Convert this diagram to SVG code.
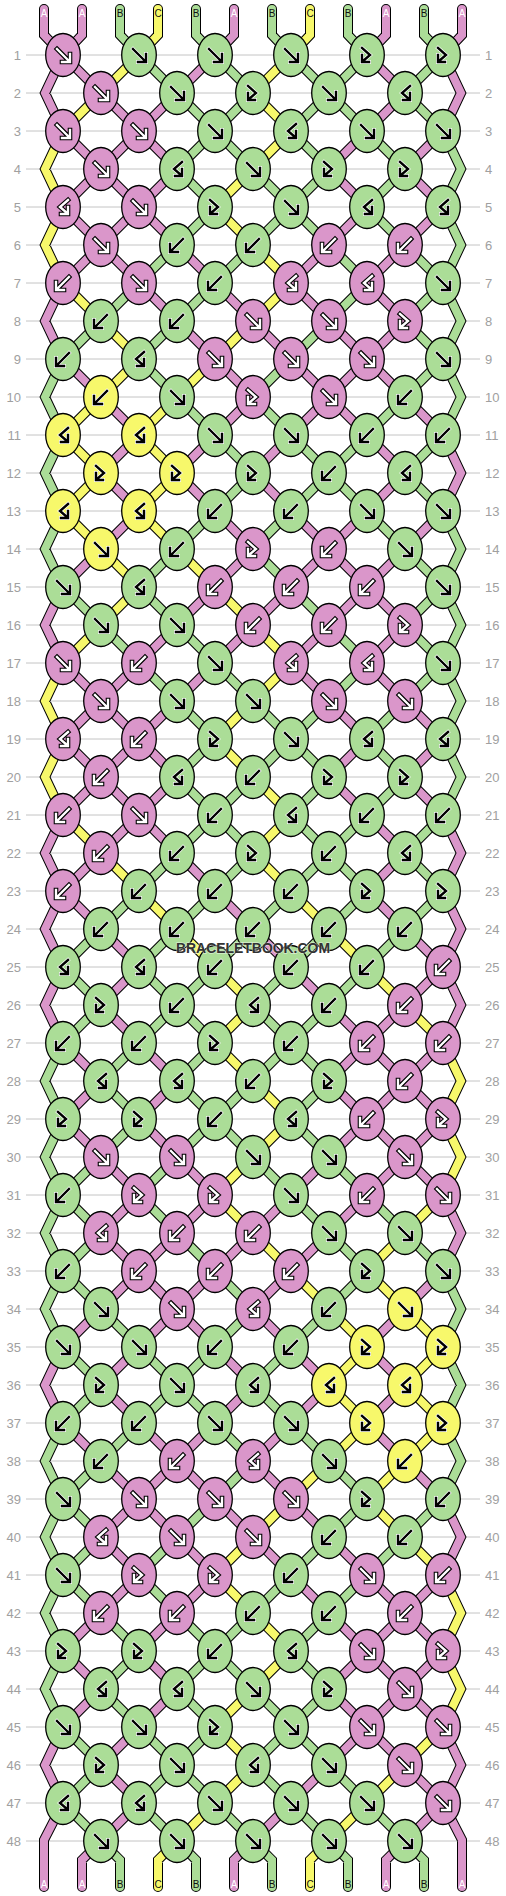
<svg xmlns="http://www.w3.org/2000/svg" width="506" height="1896" viewBox="0 0 506 1896">
<style>
.rl{fill:none;stroke:#c4c4c4;stroke-width:1}
.ln{font-family:"Liberation Sans",Arial,sans-serif;font-size:13px;fill:#a0a0a0}
.le{text-anchor:end}
.so{fill:none;stroke:#000;stroke-width:10;stroke-linecap:round;stroke-linejoin:miter}
.si{fill:none;stroke-width:8;stroke-linecap:round;stroke-linejoin:miter}
.cA{stroke:#DA96CA}.cB{stroke:#ABDD97}.cC{stroke:#F7F86B}
.kA{fill:#DA96CA;stroke:#000;stroke-width:1.3}
.kB{fill:#ABDD97;stroke:#000;stroke-width:1.3}
.kC{fill:#F7F86B;stroke:#000;stroke-width:1.3}
.aoW{fill:none;stroke:#000;stroke-width:4.6;stroke-linecap:square}
.aiW{fill:none;stroke:#fff;stroke-width:2.4;stroke-linecap:square}
.aoK{fill:none;stroke:#fff;stroke-width:3.8;stroke-linecap:square}
.aiK{fill:none;stroke:#000;stroke-width:2.4;stroke-linecap:square}
.tl{font-family:"Liberation Sans",Arial,sans-serif;font-size:10px;text-anchor:middle}
.tw{fill:#fff}.tk{fill:#111}
.wm{font-family:"Liberation Sans",Arial,sans-serif;font-size:14.5px;font-weight:bold;fill:#333;text-anchor:middle;stroke:#fff;stroke-width:1.5;stroke-opacity:0.5;paint-order:stroke}
</style>
<defs>
<path id="af" d="M-6-6L5 5M7-1V7H-1"/>
<path id="ab" d="M6-6L-5 5M-7-1V7H1"/>
<path id="afb" d="M-5-7L3 0L-4 6M-5 0V7H2"/>
<path id="abf" d="M5-7L-3 0L4 6M5 0V7H-2"/>
<g id="Pf"><ellipse class="kA" rx="17.3" ry="21.5"/><use href="#af" class="aoW"/><use href="#af" class="aiW"/></g>
<g id="Pb"><ellipse class="kA" rx="17.3" ry="21.5"/><use href="#ab" class="aoW"/><use href="#ab" class="aiW"/></g>
<g id="Pfb"><ellipse class="kA" rx="17.3" ry="21.5"/><use href="#afb" class="aoW"/><use href="#afb" class="aiW"/></g>
<g id="Pbf"><ellipse class="kA" rx="17.3" ry="21.5"/><use href="#abf" class="aoW"/><use href="#abf" class="aiW"/></g>
<g id="Gf"><ellipse class="kB" rx="17.3" ry="21.5"/><use href="#af" class="aoK"/><use href="#af" class="aiK"/></g>
<g id="Gb"><ellipse class="kB" rx="17.3" ry="21.5"/><use href="#ab" class="aoK"/><use href="#ab" class="aiK"/></g>
<g id="Gfb"><ellipse class="kB" rx="17.3" ry="21.5"/><use href="#afb" class="aoK"/><use href="#afb" class="aiK"/></g>
<g id="Gbf"><ellipse class="kB" rx="17.3" ry="21.5"/><use href="#abf" class="aoK"/><use href="#abf" class="aiK"/></g>
<g id="Yf"><ellipse class="kC" rx="17.3" ry="21.5"/><use href="#af" class="aoK"/><use href="#af" class="aiK"/></g>
<g id="Yb"><ellipse class="kC" rx="17.3" ry="21.5"/><use href="#ab" class="aoK"/><use href="#ab" class="aiK"/></g>
<g id="Yfb"><ellipse class="kC" rx="17.3" ry="21.5"/><use href="#afb" class="aoK"/><use href="#afb" class="aiK"/></g>
<g id="Ybf"><ellipse class="kC" rx="17.3" ry="21.5"/><use href="#abf" class="aoK"/><use href="#abf" class="aiK"/></g>
<path id="sA" d="M44 9V35L63 55M82 9V35L63 55M234 9V35L215 55M386 9V35L367 55M462 9V35L443 55
M63 55l-18 38 18 38M63 283l-18 38 18 38M63 587l-18 38 18 38M63 815l-18 38 18 38M63 891l-18 38 18 38M63 967l-18 38 18 38M63 1347l-18 38 18 38M63 1727l-18 38 18 38
M443 55l18 38-18 38M443 435l18 38-18 38M443 815l18 38-18 38M443 891l18 38-18 38M443 967l18 38-18 38M443 1195l18 38-18 38M443 1499l18 38-18 38M443 1727l18 38-18 38
M63 1803L44 1840V1887M101 1841L82 1860V1887M253 1841L234 1860V1887M405 1841L386 1860V1887M443 1803L462 1840V1887
M63 55l38 38M215 55l-38 38M367 55l38 38
M101 93l38 38M177 93l-38 38M405 93l-38 38
M63 131l38 38M139 131l-38 38M139 131l38 38M367 131l-38 38M443 131l-38 38
M101 169l-38 38M101 169l38 38M177 169l-38 38M329 169l38 38M405 169l38 38
M63 207l38 38M139 207l-38 38M139 207l38 38M367 207l-38 38M443 207l-38 38
M101 245l-38 38M101 245l38 38M177 245l38 38M329 245l-38 38M405 245l-38 38
M139 283l38 38M215 283l38 38M291 283l38 38M367 283l38 38
M177 321l38 38M253 321l38 38M329 321l38 38M405 321l-38 38
M63 359l38 38M215 359l38 38M291 359l38 38M367 359l-38 38M367 359l38 38
M101 397l38 38M253 397l-38 38M329 397l-38 38M329 397l38 38M405 397l38 38
M139 435l-38 38M215 435l-38 38M291 435l-38 38M367 435l38 38
M101 473l38 38M177 473l38 38M253 473l38 38M405 473l-38 38
M139 511l-38 38M215 511l38 38M291 511l38 38M367 511l-38 38M443 511l-38 38
M101 549l-38 38M253 549l-38 38M329 549l-38 38M329 549l38 38M405 549l-38 38
M215 587l-38 38M291 587l-38 38M367 587l-38 38M367 587l38 38
M177 625l-38 38M253 625l-38 38M329 625l-38 38M405 625l-38 38
M63 663l38 38M139 663l-38 38M215 663l-38 38M291 663l38 38M367 663l38 38
M101 701l-38 38M101 701l38 38M177 701l-38 38M329 701l38 38M405 701l38 38
M63 739l38 38M139 739l-38 38M139 739l38 38M367 739l-38 38M443 739l-38 38
M101 777l-38 38M101 777l38 38M177 777l-38 38M329 777l38 38M405 777l38 38
M139 815l-38 38M139 815l38 38M367 815l38 38
M101 853l-38 38M177 853l38 38M405 853l-38 38
M63 891l38 38M215 891l38 38M367 891l38 38
M101 929l38 38M253 929l38 38M405 929l38 38
M139 967l-38 38M291 967l38 38M443 967l-38 38
M101 1005l38 38M329 1005l38 38M405 1005l-38 38
M63 1043l38 38M139 1043l38 38M367 1043l-38 38M367 1043l38 38M443 1043l-38 38
M101 1081l-38 38M177 1081l-38 38M329 1081l38 38M405 1081l-38 38M405 1081l38 38
M63 1119l38 38M139 1119l38 38M367 1119l-38 38M367 1119l38 38M443 1119l-38 38
M101 1157l38 38M177 1157l38 38M329 1157l-38 38M405 1157l-38 38M405 1157l38 38
M139 1195l-38 38M215 1195l-38 38M291 1195l-38 38M367 1195l-38 38
M101 1233l38 38M177 1233l-38 38M253 1233l-38 38M329 1233l-38 38
M139 1271l-38 38M139 1271l38 38M215 1271l-38 38M291 1271l-38 38M443 1271l-38 38
M101 1309l-38 38M177 1309l-38 38M177 1309l38 38M253 1309l38 38M405 1309l-38 38
M139 1347l-38 38M215 1347l38 38M291 1347l38 38M367 1347l38 38
M101 1385l38 38M253 1385l-38 38M329 1385l-38 38M405 1385l-38 38
M63 1423l38 38M139 1423l38 38M215 1423l-38 38M291 1423l-38 38M367 1423l38 38
M101 1461l38 38M177 1461l-38 38M177 1461l38 38M253 1461l38 38M405 1461l38 38
M139 1499l-38 38M139 1499l38 38M215 1499l38 38M291 1499l38 38
M101 1537l38 38M177 1537l38 38M253 1537l38 38M329 1537l38 38
M139 1575l-38 38M215 1575l-38 38M291 1575l38 38M367 1575l38 38M443 1575l-38 38
M101 1613l-38 38M177 1613l-38 38M329 1613l38 38M405 1613l-38 38M405 1613l38 38
M63 1651l38 38M139 1651l38 38M367 1651l-38 38M367 1651l38 38M443 1651l-38 38
M101 1689l-38 38M177 1689l-38 38M329 1689l38 38M405 1689l-38 38M405 1689l38 38
M139 1727l-38 38M367 1727l-38 38M367 1727l38 38
M101 1765l38 38M329 1765l-38 38M405 1765l38 38
M139 1803l-38 38M291 1803l-38 38M443 1803l-38 38"/>
<path id="sB" d="M120 9V35L139 55M196 9V35L215 55M272 9V35L291 55M348 9V35L367 55M424 9V35L443 55
M63 359l-18 38 18 38M63 435l-18 38 18 38M63 511l-18 38 18 38M63 1043l-18 38 18 38M63 1119l-18 38 18 38M63 1195l-18 38 18 38M63 1271l-18 38 18 38M63 1423l-18 38 18 38M63 1499l-18 38 18 38M63 1575l-18 38 18 38M63 1651l-18 38 18 38
M443 131l18 38-18 38M443 207l18 38-18 38M443 283l18 38-18 38M443 359l18 38-18 38M443 511l18 38-18 38M443 587l18 38-18 38M443 663l18 38-18 38M443 739l18 38-18 38M443 1271l18 38-18 38M443 1347l18 38-18 38M443 1423l18 38-18 38
M101 1841L120 1860V1887M177 1841L196 1860V1887M253 1841L272 1860V1887M329 1841L348 1860V1887M405 1841L424 1860V1887
M139 55l38 38M215 55l38 38M291 55l38 38M367 55l-38 38M443 55l-38 38
M177 93l38 38M253 93l-38 38M329 93l-38 38M329 93l38 38M405 93l38 38
M215 131l-38 38M215 131l38 38M291 131l38 38M367 131l38 38
M177 169l38 38M253 169l38 38M329 169l-38 38M405 169l-38 38
M215 207l-38 38M291 207l-38 38M291 207l38 38M367 207l38 38
M177 245l-38 38M253 245l-38 38M329 245l38 38M405 245l38 38
M139 283l-38 38M215 283l-38 38M367 283l-38 38M443 283l-38 38
M101 321l-38 38M177 321l-38 38M329 321l-38 38M405 321l38 38
M139 359l38 38M291 359l-38 38M443 359l-38 38
M177 397l38 38M253 397l38 38M405 397l-38 38
M215 435l38 38M291 435l38 38M367 435l-38 38M443 435l-38 38
M253 473l-38 38M329 473l-38 38M329 473l38 38M405 473l38 38
M215 511l-38 38M291 511l-38 38M367 511l38 38
M177 549l-38 38M253 549l38 38M405 549l38 38
M63 587l38 38M139 587l38 38M291 587l38 38M443 587l-38 38
M101 625l38 38M177 625l38 38M329 625l38 38M405 625l38 38
M139 663l38 38M215 663l38 38M367 663l-38 38M443 663l-38 38
M177 701l38 38M253 701l38 38M329 701l-38 38M405 701l-38 38
M215 739l-38 38M291 739l-38 38M291 739l38 38M367 739l38 38
M177 777l38 38M253 777l-38 38M329 777l-38 38M405 777l-38 38
M215 815l-38 38M215 815l38 38M291 815l38 38M367 815l-38 38M443 815l-38 38
M177 853l-38 38M253 853l-38 38M329 853l-38 38M329 853l38 38M405 853l38 38
M139 891l-38 38M215 891l-38 38M291 891l-38 38M367 891l-38 38M443 891l-38 38
M101 929l-38 38M177 929l-38 38M253 929l-38 38M329 929l-38 38M405 929l-38 38
M63 967l38 38M139 967l38 38M215 967l-38 38M291 967l-38 38M367 967l-38 38
M101 1005l-38 38M177 1005l-38 38M177 1005l38 38M253 1005l38 38M329 1005l-38 38
M139 1043l-38 38M215 1043l-38 38M291 1043l-38 38M291 1043l38 38
M101 1081l38 38M177 1081l38 38M253 1081l-38 38M329 1081l-38 38
M139 1119l-38 38M215 1119l-38 38M215 1119l38 38M291 1119l38 38
M101 1157l-38 38M177 1157l-38 38M253 1157l38 38M329 1157l38 38
M63 1195l38 38M139 1195l38 38M291 1195l38 38M367 1195l38 38
M101 1233l-38 38M177 1233l38 38M329 1233l38 38M405 1233l38 38
M63 1271l38 38M215 1271l38 38M367 1271l-38 38
M101 1309l38 38M253 1309l-38 38M329 1309l-38 38
M63 1347l38 38M139 1347l38 38M215 1347l-38 38M291 1347l-38 38
M101 1385l-38 38M177 1385l-38 38M177 1385l38 38M253 1385l38 38
M139 1423l-38 38M215 1423l38 38M291 1423l38 38
M101 1461l-38 38M253 1461l-38 38M329 1461l38 38
M63 1499l38 38M215 1499l-38 38M367 1499l-38 38M443 1499l-38 38
M101 1537l-38 38M177 1537l-38 38M329 1537l-38 38M405 1537l-38 38
M63 1575l38 38M139 1575l38 38M291 1575l-38 38M367 1575l-38 38
M101 1613l38 38M177 1613l38 38M253 1613l-38 38M329 1613l-38 38
M139 1651l-38 38M215 1651l-38 38M215 1651l38 38M291 1651l38 38
M101 1689l38 38M177 1689l38 38M253 1689l38 38M329 1689l-38 38
M63 1727l38 38M139 1727l38 38M215 1727l-38 38M291 1727l-38 38M291 1727l38 38
M101 1765l-38 38M177 1765l-38 38M177 1765l38 38M253 1765l38 38M329 1765l38 38
M63 1803l38 38M139 1803l38 38M215 1803l38 38M291 1803l38 38M367 1803l38 38"/>
<path id="sC" d="M158 9V35L139 55M310 9V35L291 55
M63 131l-18 38 18 38M63 207l-18 38 18 38M63 663l-18 38 18 38M63 739l-18 38 18 38
M443 1043l18 38-18 38M443 1119l18 38-18 38M443 1575l18 38-18 38M443 1651l18 38-18 38
M177 1841L158 1860V1887M329 1841L310 1860V1887
M139 55l-38 38M291 55l-38 38
M101 93l-38 38M253 93l38 38
M291 131l-38 38
M253 169l-38 38
M215 207l38 38
M253 245l38 38
M63 283l38 38M291 283l-38 38
M101 321l38 38M253 321l-38 38
M139 359l-38 38M215 359l-38 38
M101 397l-38 38M177 397l-38 38
M63 435l38 38M139 435l38 38
M101 473l-38 38M177 473l-38 38
M63 511l38 38M139 511l38 38
M101 549l38 38M177 549l38 38
M139 587l-38 38M215 587l38 38
M101 625l-38 38M253 625l38 38
M291 663l-38 38
M253 701l-38 38
M215 739l38 38
M253 777l38 38
M63 815l38 38M291 815l-38 38
M101 853l38 38M253 853l38 38
M139 891l38 38M291 891l38 38
M177 929l38 38M329 929l38 38
M215 967l38 38M367 967l38 38
M253 1005l-38 38M405 1005l38 38
M215 1043l38 38
M253 1081l38 38
M291 1119l-38 38
M253 1157l-38 38
M215 1195l38 38M443 1195l-38 38
M253 1233l38 38M405 1233l-38 38
M291 1271l38 38M367 1271l38 38
M329 1309l38 38M405 1309l38 38
M367 1347l-38 38M443 1347l-38 38
M329 1385l38 38M405 1385l38 38
M367 1423l-38 38M443 1423l-38 38
M329 1461l-38 38M405 1461l-38 38
M291 1499l-38 38M367 1499l38 38
M253 1537l-38 38M405 1537l38 38
M215 1575l38 38
M253 1613l38 38
M291 1651l-38 38
M253 1689l-38 38
M215 1727l38 38M443 1727l-38 38
M253 1765l-38 38M405 1765l-38 38
M215 1803l-38 38M367 1803l-38 38"/>
</defs>
<rect width="506" height="1896" fill="#fff"/>
<path class="rl" d="M26 55H480M26 93H480M26 131H480M26 169H480M26 207H480M26 245H480M26 283H480M26 321H480M26 359H480M26 397H480M26 435H480M26 473H480M26 511H480M26 549H480M26 587H480M26 625H480M26 663H480M26 701H480M26 739H480M26 777H480M26 815H480M26 853H480M26 891H480M26 929H480M26 967H480M26 1005H480M26 1043H480M26 1081H480M26 1119H480M26 1157H480M26 1195H480M26 1233H480M26 1271H480M26 1309H480M26 1347H480M26 1385H480M26 1423H480M26 1461H480M26 1499H480M26 1537H480M26 1575H480M26 1613H480M26 1651H480M26 1689H480M26 1727H480M26 1765H480M26 1803H480M26 1841H480"/>
<g class="ln le">
<text x="21" y="59.5">1</text><text x="21" y="97.5">2</text><text x="21" y="135.5">3</text><text x="21" y="173.5">4</text><text x="21" y="211.5">5</text><text x="21" y="249.5">6</text><text x="21" y="287.5">7</text><text x="21" y="325.5">8</text><text x="21" y="363.5">9</text><text x="21" y="401.5">10</text><text x="21" y="439.5">11</text><text x="21" y="477.5">12</text><text x="21" y="515.5">13</text><text x="21" y="553.5">14</text><text x="21" y="591.5">15</text><text x="21" y="629.5">16</text><text x="21" y="667.5">17</text><text x="21" y="705.5">18</text><text x="21" y="743.5">19</text><text x="21" y="781.5">20</text><text x="21" y="819.5">21</text><text x="21" y="857.5">22</text><text x="21" y="895.5">23</text><text x="21" y="933.5">24</text><text x="21" y="971.5">25</text><text x="21" y="1009.5">26</text><text x="21" y="1047.5">27</text><text x="21" y="1085.5">28</text><text x="21" y="1123.5">29</text><text x="21" y="1161.5">30</text><text x="21" y="1199.5">31</text><text x="21" y="1237.5">32</text><text x="21" y="1275.5">33</text><text x="21" y="1313.5">34</text><text x="21" y="1351.5">35</text><text x="21" y="1389.5">36</text><text x="21" y="1427.5">37</text><text x="21" y="1465.5">38</text><text x="21" y="1503.5">39</text><text x="21" y="1541.5">40</text><text x="21" y="1579.5">41</text><text x="21" y="1617.5">42</text><text x="21" y="1655.5">43</text><text x="21" y="1693.5">44</text><text x="21" y="1731.5">45</text><text x="21" y="1769.5">46</text><text x="21" y="1807.5">47</text><text x="21" y="1845.5">48</text>
</g>
<g class="ln">
<text x="485" y="59.5">1</text><text x="485" y="97.5">2</text><text x="485" y="135.5">3</text><text x="485" y="173.5">4</text><text x="485" y="211.5">5</text><text x="485" y="249.5">6</text><text x="485" y="287.5">7</text><text x="485" y="325.5">8</text><text x="485" y="363.5">9</text><text x="485" y="401.5">10</text><text x="485" y="439.5">11</text><text x="485" y="477.5">12</text><text x="485" y="515.5">13</text><text x="485" y="553.5">14</text><text x="485" y="591.5">15</text><text x="485" y="629.5">16</text><text x="485" y="667.5">17</text><text x="485" y="705.5">18</text><text x="485" y="743.5">19</text><text x="485" y="781.5">20</text><text x="485" y="819.5">21</text><text x="485" y="857.5">22</text><text x="485" y="895.5">23</text><text x="485" y="933.5">24</text><text x="485" y="971.5">25</text><text x="485" y="1009.5">26</text><text x="485" y="1047.5">27</text><text x="485" y="1085.5">28</text><text x="485" y="1123.5">29</text><text x="485" y="1161.5">30</text><text x="485" y="1199.5">31</text><text x="485" y="1237.5">32</text><text x="485" y="1275.5">33</text><text x="485" y="1313.5">34</text><text x="485" y="1351.5">35</text><text x="485" y="1389.5">36</text><text x="485" y="1427.5">37</text><text x="485" y="1465.5">38</text><text x="485" y="1503.5">39</text><text x="485" y="1541.5">40</text><text x="485" y="1579.5">41</text><text x="485" y="1617.5">42</text><text x="485" y="1655.5">43</text><text x="485" y="1693.5">44</text><text x="485" y="1731.5">45</text><text x="485" y="1769.5">46</text><text x="485" y="1807.5">47</text><text x="485" y="1845.5">48</text>
</g>
<g id="connectors">
<use href="#sA" class="so"/><use href="#sB" class="so"/><use href="#sC" class="so"/>
<use href="#sA" class="si cA"/><use href="#sB" class="si cB"/><use href="#sC" class="si cC"/>
</g>
<g id="knots">
<g id="k1-1"><use href="#Pf" x="63" y="55"/></g><g id="k1-2"><use href="#Gf" x="139" y="55"/></g><g id="k1-3"><use href="#Gf" x="215" y="55"/></g><g id="k1-4"><use href="#Gf" x="291" y="55"/></g><g id="k1-5"><use href="#Gfb" x="367" y="55"/></g><g id="k1-6"><use href="#Gfb" x="443" y="55"/></g>
<g id="k2-1"><use href="#Pf" x="101" y="93"/></g><g id="k2-2"><use href="#Gf" x="177" y="93"/></g><g id="k2-3"><use href="#Gfb" x="253" y="93"/></g><g id="k2-4"><use href="#Gf" x="329" y="93"/></g><g id="k2-5"><use href="#Gbf" x="405" y="93"/></g>
<g id="k3-1"><use href="#Pf" x="63" y="131"/></g><g id="k3-2"><use href="#Pf" x="139" y="131"/></g><g id="k3-3"><use href="#Gf" x="215" y="131"/></g><g id="k3-4"><use href="#Gbf" x="291" y="131"/></g><g id="k3-5"><use href="#Gf" x="367" y="131"/></g><g id="k3-6"><use href="#Gf" x="443" y="131"/></g>
<g id="k4-1"><use href="#Pf" x="101" y="169"/></g><g id="k4-2"><use href="#Gbf" x="177" y="169"/></g><g id="k4-3"><use href="#Gf" x="253" y="169"/></g><g id="k4-4"><use href="#Gfb" x="329" y="169"/></g><g id="k4-5"><use href="#Gfb" x="405" y="169"/></g>
<g id="k5-1"><use href="#Pbf" x="63" y="207"/></g><g id="k5-2"><use href="#Pf" x="139" y="207"/></g><g id="k5-3"><use href="#Gfb" x="215" y="207"/></g><g id="k5-4"><use href="#Gf" x="291" y="207"/></g><g id="k5-5"><use href="#Gbf" x="367" y="207"/></g><g id="k5-6"><use href="#Gbf" x="443" y="207"/></g>
<g id="k6-1"><use href="#Pf" x="101" y="245"/></g><g id="k6-2"><use href="#Gb" x="177" y="245"/></g><g id="k6-3"><use href="#Gb" x="253" y="245"/></g><g id="k6-4"><use href="#Pb" x="329" y="245"/></g><g id="k6-5"><use href="#Pb" x="405" y="245"/></g>
<g id="k7-1"><use href="#Pb" x="63" y="283"/></g><g id="k7-2"><use href="#Pf" x="139" y="283"/></g><g id="k7-3"><use href="#Gb" x="215" y="283"/></g><g id="k7-4"><use href="#Pbf" x="291" y="283"/></g><g id="k7-5"><use href="#Pbf" x="367" y="283"/></g><g id="k7-6"><use href="#Gf" x="443" y="283"/></g>
<g id="k8-1"><use href="#Gb" x="101" y="321"/></g><g id="k8-2"><use href="#Gb" x="177" y="321"/></g><g id="k8-3"><use href="#Pf" x="253" y="321"/></g><g id="k8-4"><use href="#Pf" x="329" y="321"/></g><g id="k8-5"><use href="#Pfb" x="405" y="321"/></g>
<g id="k9-1"><use href="#Gb" x="63" y="359"/></g><g id="k9-2"><use href="#Gbf" x="139" y="359"/></g><g id="k9-3"><use href="#Pf" x="215" y="359"/></g><g id="k9-4"><use href="#Pf" x="291" y="359"/></g><g id="k9-5"><use href="#Pf" x="367" y="359"/></g><g id="k9-6"><use href="#Gf" x="443" y="359"/></g>
<g id="k10-1"><use href="#Yb" x="101" y="397"/></g><g id="k10-2"><use href="#Gf" x="177" y="397"/></g><g id="k10-3"><use href="#Pfb" x="253" y="397"/></g><g id="k10-4"><use href="#Pf" x="329" y="397"/></g><g id="k10-5"><use href="#Gb" x="405" y="397"/></g>
<g id="k11-1"><use href="#Ybf" x="63" y="435"/></g><g id="k11-2"><use href="#Ybf" x="139" y="435"/></g><g id="k11-3"><use href="#Gf" x="215" y="435"/></g><g id="k11-4"><use href="#Gf" x="291" y="435"/></g><g id="k11-5"><use href="#Gb" x="367" y="435"/></g><g id="k11-6"><use href="#Gb" x="443" y="435"/></g>
<g id="k12-1"><use href="#Yfb" x="101" y="473"/></g><g id="k12-2"><use href="#Yfb" x="177" y="473"/></g><g id="k12-3"><use href="#Gfb" x="253" y="473"/></g><g id="k12-4"><use href="#Gb" x="329" y="473"/></g><g id="k12-5"><use href="#Gbf" x="405" y="473"/></g>
<g id="k13-1"><use href="#Ybf" x="63" y="511"/></g><g id="k13-2"><use href="#Ybf" x="139" y="511"/></g><g id="k13-3"><use href="#Gb" x="215" y="511"/></g><g id="k13-4"><use href="#Gb" x="291" y="511"/></g><g id="k13-5"><use href="#Gf" x="367" y="511"/></g><g id="k13-6"><use href="#Gf" x="443" y="511"/></g>
<g id="k14-1"><use href="#Yf" x="101" y="549"/></g><g id="k14-2"><use href="#Gb" x="177" y="549"/></g><g id="k14-3"><use href="#Pfb" x="253" y="549"/></g><g id="k14-4"><use href="#Pb" x="329" y="549"/></g><g id="k14-5"><use href="#Gf" x="405" y="549"/></g>
<g id="k15-1"><use href="#Gf" x="63" y="587"/></g><g id="k15-2"><use href="#Gbf" x="139" y="587"/></g><g id="k15-3"><use href="#Pb" x="215" y="587"/></g><g id="k15-4"><use href="#Pb" x="291" y="587"/></g><g id="k15-5"><use href="#Pb" x="367" y="587"/></g><g id="k15-6"><use href="#Gf" x="443" y="587"/></g>
<g id="k16-1"><use href="#Gf" x="101" y="625"/></g><g id="k16-2"><use href="#Gf" x="177" y="625"/></g><g id="k16-3"><use href="#Pb" x="253" y="625"/></g><g id="k16-4"><use href="#Pb" x="329" y="625"/></g><g id="k16-5"><use href="#Pfb" x="405" y="625"/></g>
<g id="k17-1"><use href="#Pf" x="63" y="663"/></g><g id="k17-2"><use href="#Pb" x="139" y="663"/></g><g id="k17-3"><use href="#Gf" x="215" y="663"/></g><g id="k17-4"><use href="#Pbf" x="291" y="663"/></g><g id="k17-5"><use href="#Pbf" x="367" y="663"/></g><g id="k17-6"><use href="#Gf" x="443" y="663"/></g>
<g id="k18-1"><use href="#Pf" x="101" y="701"/></g><g id="k18-2"><use href="#Gf" x="177" y="701"/></g><g id="k18-3"><use href="#Gf" x="253" y="701"/></g><g id="k18-4"><use href="#Pf" x="329" y="701"/></g><g id="k18-5"><use href="#Pf" x="405" y="701"/></g>
<g id="k19-1"><use href="#Pbf" x="63" y="739"/></g><g id="k19-2"><use href="#Pb" x="139" y="739"/></g><g id="k19-3"><use href="#Gfb" x="215" y="739"/></g><g id="k19-4"><use href="#Gf" x="291" y="739"/></g><g id="k19-5"><use href="#Gbf" x="367" y="739"/></g><g id="k19-6"><use href="#Gbf" x="443" y="739"/></g>
<g id="k20-1"><use href="#Pb" x="101" y="777"/></g><g id="k20-2"><use href="#Gbf" x="177" y="777"/></g><g id="k20-3"><use href="#Gb" x="253" y="777"/></g><g id="k20-4"><use href="#Gfb" x="329" y="777"/></g><g id="k20-5"><use href="#Gfb" x="405" y="777"/></g>
<g id="k21-1"><use href="#Pb" x="63" y="815"/></g><g id="k21-2"><use href="#Pf" x="139" y="815"/></g><g id="k21-3"><use href="#Gb" x="215" y="815"/></g><g id="k21-4"><use href="#Gbf" x="291" y="815"/></g><g id="k21-5"><use href="#Gb" x="367" y="815"/></g><g id="k21-6"><use href="#Gb" x="443" y="815"/></g>
<g id="k22-1"><use href="#Pb" x="101" y="853"/></g><g id="k22-2"><use href="#Gb" x="177" y="853"/></g><g id="k22-3"><use href="#Gfb" x="253" y="853"/></g><g id="k22-4"><use href="#Gb" x="329" y="853"/></g><g id="k22-5"><use href="#Gbf" x="405" y="853"/></g>
<g id="k23-1"><use href="#Pb" x="63" y="891"/></g><g id="k23-2"><use href="#Gb" x="139" y="891"/></g><g id="k23-3"><use href="#Gb" x="215" y="891"/></g><g id="k23-4"><use href="#Gb" x="291" y="891"/></g><g id="k23-5"><use href="#Gfb" x="367" y="891"/></g><g id="k23-6"><use href="#Gfb" x="443" y="891"/></g>
<g id="k24-1"><use href="#Gb" x="101" y="929"/></g><g id="k24-2"><use href="#Gb" x="177" y="929"/></g><g id="k24-3"><use href="#Gb" x="253" y="929"/></g><g id="k24-4"><use href="#Gb" x="329" y="929"/></g><g id="k24-5"><use href="#Gb" x="405" y="929"/></g>
<g id="k25-1"><use href="#Gbf" x="63" y="967"/></g><g id="k25-2"><use href="#Gbf" x="139" y="967"/></g><g id="k25-3"><use href="#Gb" x="215" y="967"/></g><g id="k25-4"><use href="#Gb" x="291" y="967"/></g><g id="k25-5"><use href="#Gb" x="367" y="967"/></g><g id="k25-6"><use href="#Pb" x="443" y="967"/></g>
<g id="k26-1"><use href="#Gfb" x="101" y="1005"/></g><g id="k26-2"><use href="#Gb" x="177" y="1005"/></g><g id="k26-3"><use href="#Gbf" x="253" y="1005"/></g><g id="k26-4"><use href="#Gb" x="329" y="1005"/></g><g id="k26-5"><use href="#Pb" x="405" y="1005"/></g>
<g id="k27-1"><use href="#Gb" x="63" y="1043"/></g><g id="k27-2"><use href="#Gb" x="139" y="1043"/></g><g id="k27-3"><use href="#Gfb" x="215" y="1043"/></g><g id="k27-4"><use href="#Gb" x="291" y="1043"/></g><g id="k27-5"><use href="#Pb" x="367" y="1043"/></g><g id="k27-6"><use href="#Pb" x="443" y="1043"/></g>
<g id="k28-1"><use href="#Gbf" x="101" y="1081"/></g><g id="k28-2"><use href="#Gbf" x="177" y="1081"/></g><g id="k28-3"><use href="#Gb" x="253" y="1081"/></g><g id="k28-4"><use href="#Gfb" x="329" y="1081"/></g><g id="k28-5"><use href="#Pb" x="405" y="1081"/></g>
<g id="k29-1"><use href="#Gfb" x="63" y="1119"/></g><g id="k29-2"><use href="#Gfb" x="139" y="1119"/></g><g id="k29-3"><use href="#Gb" x="215" y="1119"/></g><g id="k29-4"><use href="#Gbf" x="291" y="1119"/></g><g id="k29-5"><use href="#Pb" x="367" y="1119"/></g><g id="k29-6"><use href="#Pfb" x="443" y="1119"/></g>
<g id="k30-1"><use href="#Pf" x="101" y="1157"/></g><g id="k30-2"><use href="#Pf" x="177" y="1157"/></g><g id="k30-3"><use href="#Gf" x="253" y="1157"/></g><g id="k30-4"><use href="#Gf" x="329" y="1157"/></g><g id="k30-5"><use href="#Pf" x="405" y="1157"/></g>
<g id="k31-1"><use href="#Gb" x="63" y="1195"/></g><g id="k31-2"><use href="#Pfb" x="139" y="1195"/></g><g id="k31-3"><use href="#Pfb" x="215" y="1195"/></g><g id="k31-4"><use href="#Gf" x="291" y="1195"/></g><g id="k31-5"><use href="#Pb" x="367" y="1195"/></g><g id="k31-6"><use href="#Pf" x="443" y="1195"/></g>
<g id="k32-1"><use href="#Pbf" x="101" y="1233"/></g><g id="k32-2"><use href="#Pb" x="177" y="1233"/></g><g id="k32-3"><use href="#Pb" x="253" y="1233"/></g><g id="k32-4"><use href="#Gf" x="329" y="1233"/></g><g id="k32-5"><use href="#Gf" x="405" y="1233"/></g>
<g id="k33-1"><use href="#Gb" x="63" y="1271"/></g><g id="k33-2"><use href="#Pb" x="139" y="1271"/></g><g id="k33-3"><use href="#Pb" x="215" y="1271"/></g><g id="k33-4"><use href="#Pb" x="291" y="1271"/></g><g id="k33-5"><use href="#Gfb" x="367" y="1271"/></g><g id="k33-6"><use href="#Gf" x="443" y="1271"/></g>
<g id="k34-1"><use href="#Gf" x="101" y="1309"/></g><g id="k34-2"><use href="#Pf" x="177" y="1309"/></g><g id="k34-3"><use href="#Pbf" x="253" y="1309"/></g><g id="k34-4"><use href="#Gb" x="329" y="1309"/></g><g id="k34-5"><use href="#Yf" x="405" y="1309"/></g>
<g id="k35-1"><use href="#Gf" x="63" y="1347"/></g><g id="k35-2"><use href="#Gf" x="139" y="1347"/></g><g id="k35-3"><use href="#Gb" x="215" y="1347"/></g><g id="k35-4"><use href="#Gb" x="291" y="1347"/></g><g id="k35-5"><use href="#Yfb" x="367" y="1347"/></g><g id="k35-6"><use href="#Yfb" x="443" y="1347"/></g>
<g id="k36-1"><use href="#Gfb" x="101" y="1385"/></g><g id="k36-2"><use href="#Gf" x="177" y="1385"/></g><g id="k36-3"><use href="#Gbf" x="253" y="1385"/></g><g id="k36-4"><use href="#Ybf" x="329" y="1385"/></g><g id="k36-5"><use href="#Ybf" x="405" y="1385"/></g>
<g id="k37-1"><use href="#Gb" x="63" y="1423"/></g><g id="k37-2"><use href="#Gb" x="139" y="1423"/></g><g id="k37-3"><use href="#Gf" x="215" y="1423"/></g><g id="k37-4"><use href="#Gf" x="291" y="1423"/></g><g id="k37-5"><use href="#Yfb" x="367" y="1423"/></g><g id="k37-6"><use href="#Yfb" x="443" y="1423"/></g>
<g id="k38-1"><use href="#Gb" x="101" y="1461"/></g><g id="k38-2"><use href="#Pb" x="177" y="1461"/></g><g id="k38-3"><use href="#Pbf" x="253" y="1461"/></g><g id="k38-4"><use href="#Gf" x="329" y="1461"/></g><g id="k38-5"><use href="#Yb" x="405" y="1461"/></g>
<g id="k39-1"><use href="#Gf" x="63" y="1499"/></g><g id="k39-2"><use href="#Pf" x="139" y="1499"/></g><g id="k39-3"><use href="#Pf" x="215" y="1499"/></g><g id="k39-4"><use href="#Pf" x="291" y="1499"/></g><g id="k39-5"><use href="#Gfb" x="367" y="1499"/></g><g id="k39-6"><use href="#Gb" x="443" y="1499"/></g>
<g id="k40-1"><use href="#Pbf" x="101" y="1537"/></g><g id="k40-2"><use href="#Pf" x="177" y="1537"/></g><g id="k40-3"><use href="#Pf" x="253" y="1537"/></g><g id="k40-4"><use href="#Gb" x="329" y="1537"/></g><g id="k40-5"><use href="#Gb" x="405" y="1537"/></g>
<g id="k41-1"><use href="#Gf" x="63" y="1575"/></g><g id="k41-2"><use href="#Pfb" x="139" y="1575"/></g><g id="k41-3"><use href="#Pfb" x="215" y="1575"/></g><g id="k41-4"><use href="#Gb" x="291" y="1575"/></g><g id="k41-5"><use href="#Pf" x="367" y="1575"/></g><g id="k41-6"><use href="#Pb" x="443" y="1575"/></g>
<g id="k42-1"><use href="#Pb" x="101" y="1613"/></g><g id="k42-2"><use href="#Pb" x="177" y="1613"/></g><g id="k42-3"><use href="#Gb" x="253" y="1613"/></g><g id="k42-4"><use href="#Gb" x="329" y="1613"/></g><g id="k42-5"><use href="#Pb" x="405" y="1613"/></g>
<g id="k43-1"><use href="#Gfb" x="63" y="1651"/></g><g id="k43-2"><use href="#Gfb" x="139" y="1651"/></g><g id="k43-3"><use href="#Gb" x="215" y="1651"/></g><g id="k43-4"><use href="#Gbf" x="291" y="1651"/></g><g id="k43-5"><use href="#Pf" x="367" y="1651"/></g><g id="k43-6"><use href="#Pfb" x="443" y="1651"/></g>
<g id="k44-1"><use href="#Gbf" x="101" y="1689"/></g><g id="k44-2"><use href="#Gbf" x="177" y="1689"/></g><g id="k44-3"><use href="#Gf" x="253" y="1689"/></g><g id="k44-4"><use href="#Gfb" x="329" y="1689"/></g><g id="k44-5"><use href="#Pf" x="405" y="1689"/></g>
<g id="k45-1"><use href="#Gf" x="63" y="1727"/></g><g id="k45-2"><use href="#Gf" x="139" y="1727"/></g><g id="k45-3"><use href="#Gfb" x="215" y="1727"/></g><g id="k45-4"><use href="#Gf" x="291" y="1727"/></g><g id="k45-5"><use href="#Pf" x="367" y="1727"/></g><g id="k45-6"><use href="#Pf" x="443" y="1727"/></g>
<g id="k46-1"><use href="#Gfb" x="101" y="1765"/></g><g id="k46-2"><use href="#Gf" x="177" y="1765"/></g><g id="k46-3"><use href="#Gbf" x="253" y="1765"/></g><g id="k46-4"><use href="#Gf" x="329" y="1765"/></g><g id="k46-5"><use href="#Pf" x="405" y="1765"/></g>
<g id="k47-1"><use href="#Gbf" x="63" y="1803"/></g><g id="k47-2"><use href="#Gbf" x="139" y="1803"/></g><g id="k47-3"><use href="#Gf" x="215" y="1803"/></g><g id="k47-4"><use href="#Gf" x="291" y="1803"/></g><g id="k47-5"><use href="#Gf" x="367" y="1803"/></g><g id="k47-6"><use href="#Pf" x="443" y="1803"/></g>
<g id="k48-1"><use href="#Gf" x="101" y="1841"/></g><g id="k48-2"><use href="#Gf" x="177" y="1841"/></g><g id="k48-3"><use href="#Gf" x="253" y="1841"/></g><g id="k48-4"><use href="#Gf" x="329" y="1841"/></g><g id="k48-5"><use href="#Gf" x="405" y="1841"/></g>
</g>
<g id="string-labels" class="tl">
<text class="tw" x="44" y="16.7">A</text><text class="tw" x="82" y="16.7">A</text><text class="tk" x="120" y="16.7">B</text><text class="tk" x="158" y="16.7">C</text><text class="tk" x="196" y="16.7">B</text><text class="tw" x="234" y="16.7">A</text><text class="tk" x="272" y="16.7">B</text><text class="tk" x="310" y="16.7">C</text><text class="tk" x="348" y="16.7">B</text><text class="tw" x="386" y="16.7">A</text><text class="tk" x="424" y="16.7">B</text><text class="tw" x="462" y="16.7">A</text>
<text class="tw" x="44" y="1887.5">A</text><text class="tw" x="82" y="1887.5">A</text><text class="tk" x="120" y="1887.5">B</text><text class="tk" x="158" y="1887.5">C</text><text class="tk" x="196" y="1887.5">B</text><text class="tw" x="234" y="1887.5">A</text><text class="tk" x="272" y="1887.5">B</text><text class="tk" x="310" y="1887.5">C</text><text class="tk" x="348" y="1887.5">B</text><text class="tw" x="386" y="1887.5">A</text><text class="tk" x="424" y="1887.5">B</text><text class="tw" x="462" y="1887.5">A</text>
</g>
<text class="wm" x="253" y="953" textLength="154" lengthAdjust="spacingAndGlyphs">BRACELETBOOK.COM</text>
</svg>
